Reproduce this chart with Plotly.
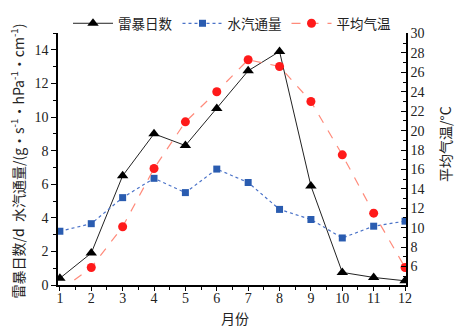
import plotly.graph_objects as go

months = [1, 2, 3, 4, 5, 6, 7, 8, 9, 10, 11, 12]
thunder_days = [0.4, 1.9, 6.5, 9.0, 8.3, 10.5, 12.75, 13.9, 5.9, 0.75, 0.45, 0.25]
vapor_flux = [3.2, 3.65, 5.2, 6.35, 5.5, 6.9, 6.1, 4.5, 3.9, 2.8, 3.5, 3.8]
mean_temp = [3.5, 5.9, 10.1, 16.1, 20.9, 24.0, 27.3, 26.6, 23.0, 17.5, 11.5, 5.9]

FONT = "Liberation Serif"
CJK = "Noto Sans CJK SC"

fig = go.Figure()
fig.add_trace(go.Scatter(
    x=months, y=thunder_days, name="雷暴日数", mode="lines+markers",
    line=dict(color="#222222", width=1),
    marker=dict(symbol="triangle-up", size=10, color="black"),
    yaxis="y"))
fig.add_trace(go.Scatter(
    x=months, y=vapor_flux, name="水汽通量", mode="lines+markers",
    line=dict(color="#4a72c8", width=1.2, dash="dot"),
    marker=dict(symbol="square", size=7, color="#2a5cb0"),
    yaxis="y"))
fig.add_trace(go.Scatter(
    x=months, y=mean_temp, name="平均气温", mode="lines+markers",
    line=dict(color="#ff8a7a", width=1.2, dash="dash"),
    marker=dict(symbol="circle", size=9, color="#ff1a1a"),
    yaxis="y2"))

# page body has an 8px margin: figure is shifted, so sizes compensate
fig.update_layout(
    width=464, height=320,
    margin=dict(l=50, r=66, t=25, b=43, autoexpand=False),
    plot_bgcolor="white", paper_bgcolor="white",
    font=dict(family=FONT, size=14, color="#222222"),
    showlegend=True,
    legend=dict(orientation="h", x=0.5, xanchor="center", xref="paper",
                y=1, yref="container", yanchor="top",
                font=dict(family=CJK, size=13.5), itemwidth=40,
                bgcolor="rgba(0,0,0,0)", tracegroupgap=0),
    xaxis=dict(range=[0.94, 12.03], tickmode="array", tickvals=months,
               ticktext=[str(m) for m in months],
               showline=True, linecolor="black", linewidth=1.5,
               ticks="outside", ticklen=4, tickwidth=1.2, tickcolor="black",
               ticklabelstandoff=-5,
               tickfont=dict(family=FONT, size=14),
               minor=dict(ticks="outside", ticklen=3, dtick=0.5, tick0=0.5, tickcolor="black"),
               showgrid=False, zeroline=False, mirror=False),
    yaxis=dict(range=[0, 15], dtick=2, tick0=0,
               showline=True, linecolor="black", linewidth=1.5,
               ticks="outside", ticklen=5, tickwidth=1.2, tickcolor="black",
               tickfont=dict(family=FONT, size=14),
               minor=dict(ticks="outside", ticklen=3, dtick=1, tickcolor="black"),
               showgrid=False, zeroline=False),
    yaxis2=dict(range=[4.1, 30.05], dtick=2, tick0=0, overlaying="y", side="right",
                showline=True, linecolor="black", linewidth=1.5,
                ticks="inside", ticklen=5, tickwidth=1.2, tickcolor="black",
                tickfont=dict(family=FONT, size=14),
                minor=dict(ticks="inside", ticklen=3, dtick=1, tickcolor="black"),
                showgrid=False, zeroline=False),
    annotations=[
        dict(text="雷暴日数/d  水汽通量/(g·s<sup>-1</sup>·hPa<sup>-1</sup>·cm<sup>-1</sup>)",
             xref="paper", yref="paper", x=(18 - 58) / 348, y=0.49,
             xanchor="center", yanchor="middle", textangle=-90, showarrow=False,
             font=dict(family=CJK, size=14, color="#222222")),
        dict(text="平均气温/°C",
             xref="paper", yref="paper", x=(445 - 58) / 348, y=0.56,
             xanchor="center", yanchor="middle", textangle=-90, showarrow=False,
             font=dict(family=CJK, size=14, color="#222222")),
        dict(text="月份", xref="paper", yref="paper", x=(235 - 58) / 348, y=(285 - 318) / 252,
             xanchor="center", yanchor="middle", showarrow=False,
             font=dict(family=CJK, size=14, color="#222222")),
    ],
)

fig.write_html("out.html")
